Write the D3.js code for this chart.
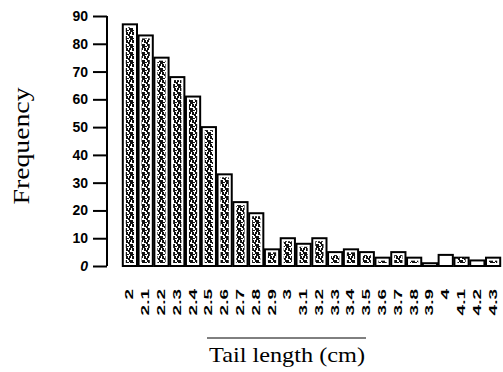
<!DOCTYPE html>
<html>
<head>
<meta charset="utf-8">
<script src="https://cdn.jsdelivr.net/npm/d3@7/dist/d3.min.js"></script>
<style>
  body { margin: 0; background: #fff; }
  /*
    svg inline-block gap
  */
  svg { display: block; }
</style>
</head>
<body>
<svg id="chart" width="503" height="372"></svg>
<script>
var categories = ["2", "2.1", "2.2", "2.3", "2.4", "2.5", "2.6", "2.7", "2.8", "2.9",
                  "3", "3.1", "3.2", "3.3", "3.4", "3.5", "3.6", "3.7", "3.8", "3.9",
                  "4", "4.1", "4.2", "4.3"];
var frequency = [87, 83, 75, 68, 61, 50, 33, 23, 19, 6,
                 10, 8, 10, 5, 6, 5, 3, 5, 3, 1,
                 4, 3, 2, 3];
var yTicks = [0, 10, 20, 30, 40, 50, 60, 70, 80, 90];

var svg = d3.select("#chart");

var x = d3.scaleBand()
    .domain(categories)
    .range([122, 501])
    .paddingInner(0.1)
    .paddingOuter(0.05);

var y = d3.scaleLinear()
    .domain([0, 90])
    .range([266, 16]);

// speckled scan texture for bar interiors
var pat = svg.append("defs").append("pattern")
    .attr("id", "speck")
    .attr("patternUnits", "userSpaceOnUse")
    .attr("width", 6).attr("height", 8);
pat.append("rect").attr("width", 6).attr("height", 8).attr("fill", "#fff");
[[0, 0, 2, 3], [3, 0, 2, 2], [2, 2, 2, 2], [0, 4, 1, 4], [3, 4, 3, 2], [4, 6, 2, 2], [1, 6, 2, 1]].forEach(function(r) {
  pat.append("rect")
    .attr("x", r[0]).attr("y", r[1])
    .attr("width", r[2]).attr("height", r[3])
    .attr("fill", "#111");
});

var bars = svg.append("g").selectAll("g")
  .data(categories)
  .enter().append("g");

bars.append("rect")
    .attr("x", function(d) { return x(d); })
    .attr("y", function(d, i) { return y(frequency[i]); })
    .attr("width", x.bandwidth())
    .attr("height", function(d, i) { return y(0) - y(frequency[i]); })
    .attr("fill", "#fff")
    .attr("stroke", "#000")
    .attr("stroke-width", 2);

bars.filter(function(d, i) { return y(0) - y(frequency[i]) > 8; })
  .append("rect")
    .attr("x", function(d) { return x(d) + 3; })
    .attr("y", function(d, i) { return y(frequency[i]) + 3; })
    .attr("width", x.bandwidth() - 6)
    .attr("height", function(d, i) { return y(0) - y(frequency[i]) - 6; })
    .attr("fill", "url(#speck)");

// y axis
var yAxis = svg.append("g")
    .attr("transform", "translate(107,0)")
    .call(d3.axisLeft(y).tickValues(yTicks).tickSize(14).tickPadding(5));
yAxis.select(".domain").attr("stroke", "#000").attr("stroke-width", 2)
    .attr("d", "M0," + y(90) + "V" + y(0));
yAxis.selectAll(".tick line").attr("stroke", "#000").attr("stroke-width", 2);
yAxis.selectAll(".tick text")
    .attr("fill", "#000")
    .style("font-family", "'Liberation Sans', Arial, sans-serif")
    .style("font-size", "14px")
    .style("font-weight", "bold")
    .style("font-style", function(d) { return d === 0 ? "italic" : "normal"; });

// category labels, stretched along their length like the scan
svg.append("g").selectAll("text")
  .data(categories)
  .enter().append("text")
    .attr("transform", function(d) {
      return "translate(" + (x(d) + x.bandwidth() / 2 + 3.5) + ",289) rotate(-90) scale(1.9,1)";
    })
    .attr("text-anchor", "end")
    .style("font-family", "'Liberation Sans', Arial, sans-serif")
    .style("font-size", "10px")
    .style("font-weight", "bold")
    .text(function(d) { return d; });

// axis titles
svg.append("text")
    .attr("transform", "translate(29,146) rotate(-90)")
    .attr("text-anchor", "middle")
    .attr("textLength", 117)
    .attr("lengthAdjust", "spacingAndGlyphs")
    .style("font-family", "'Liberation Serif', 'Times New Roman', serif")
    .style("font-size", "23px")
    .text("Frequency");

svg.append("line")
    .attr("x1", 207).attr("x2", 366)
    .attr("y1", 338).attr("y2", 338)
    .attr("stroke", "#000").attr("stroke-width", 1);

svg.append("text")
    .attr("x", 287).attr("y", 362)
    .attr("text-anchor", "middle")
    .attr("textLength", 156)
    .attr("lengthAdjust", "spacingAndGlyphs")
    .style("font-family", "'Liberation Serif', 'Times New Roman', serif")
    .style("font-size", "22px")
    .text("Tail length (cm)");
</script>
</body>
</html>
